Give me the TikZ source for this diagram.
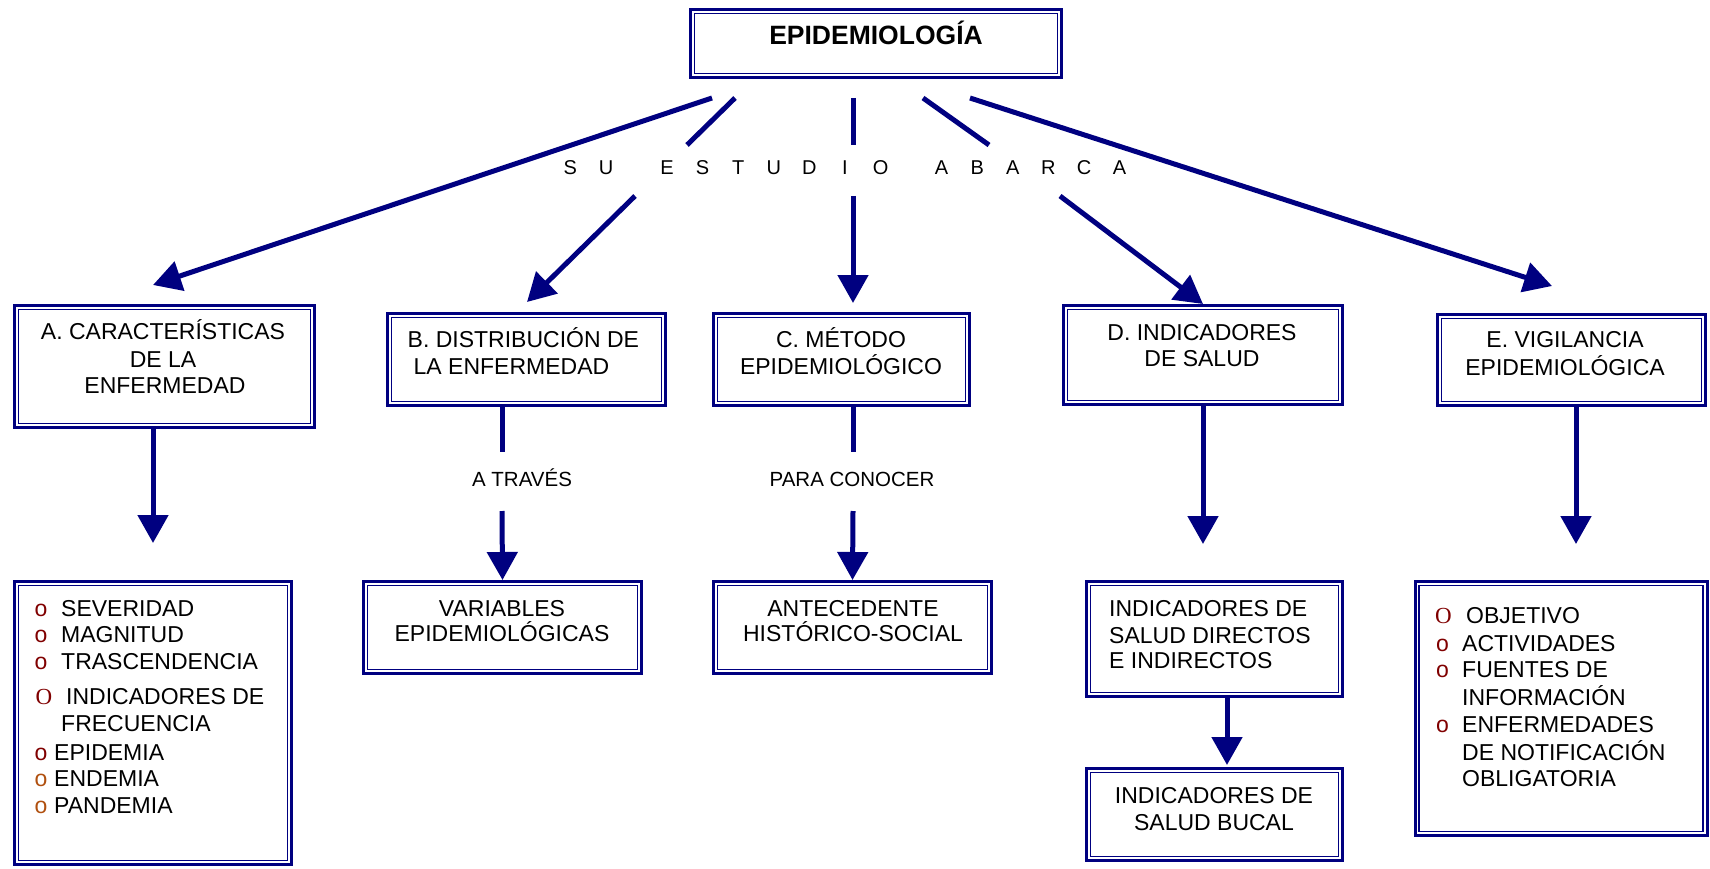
\documentclass[tikz,border=0pt]{standalone}
\usepackage{fontspec}
\setmainfont{Liberation Sans}
\newfontfamily\serifbul{Liberation Serif}
\usetikzlibrary{arrows.meta,calc}
\definecolor{navy}{HTML}{000080}
\definecolor{bulred}{HTML}{800000}
\definecolor{bulorange}{HTML}{B0500F}
\newcommand{\lsp}[1]{\makebox[35.6pt]{#1}}
\begin{document}
\begin{tikzpicture}[x=1pt,y=-1pt,
  dbox/.style={draw=navy, line width=3pt, inner sep=0pt, rectangle,
    path picture={\draw[navy,line width=1.7pt]
      ([shift={(4.05pt,-4.05pt)}]path picture bounding box.north west) rectangle
      ([shift={(-4.05pt,4.05pt)}]path picture bounding box.south east);}},
  txt/.style={inner sep=0pt, font=\fontsize{23}{27}\selectfont},
  small/.style={inner sep=0pt, font=\fontsize{20.5}{24}\selectfont},
  bul/.style={inner sep=0pt, anchor=base, text=bulred, font=\fontsize{23}{27}\selectfont},
  sbul/.style={inner sep=0pt, anchor=base, text=bulred, font=\serifbul\fontsize{23}{27}\selectfont},
  obul/.style={bul, text=bulorange},
  ln/.style={draw=navy, line width=5pt},
  arr/.style={draw=navy, line width=5pt, -{Triangle[length=28pt,width=30pt]}}
]
\useasboundingbox (0,0) rectangle (1710,869);

% boxes
\node[dbox, minimum width=371pt, minimum height=68pt] (T) at (876,43.5) {};
\node[dbox, minimum width=300pt, minimum height=122pt] (A) at (164.5,366.5) {};
\node[dbox, minimum width=278pt, minimum height=92pt] (B) at (526.5,359.5) {};
\node[dbox, minimum width=256pt, minimum height=92pt] (C) at (841.5,359.5) {};
\node[dbox, minimum width=279pt, minimum height=99pt] (D) at (1203,355) {};
\node[dbox, minimum width=268pt, minimum height=91pt] (E) at (1571.5,360) {};
\node[dbox, minimum width=277pt, minimum height=283pt] (Alist) at (153,723) {};
\node[dbox, minimum width=278pt, minimum height=92pt] (Bsub) at (502.5,627.5) {};
\node[dbox, minimum width=278pt, minimum height=92pt] (Csub) at (852.5,627.5) {};
\node[dbox, minimum width=256pt, minimum height=115pt] (Dsub1) at (1214.5,639) {};
\node[dbox, minimum width=256pt, minimum height=92pt] (Dsub2) at (1214.5,814.5) {};
\node[dbox, minimum width=292pt, minimum height=254pt] (Elist) at (1561,708.5) {};

% title
\node[inner sep=0pt, anchor=base, font=\bfseries\fontsize{26.5}{30}\selectfont] (ttl) at (876,45) {EPIDEMIOLOGÍA};

% header texts
\node[txt, anchor=base] (a1) at (163,339) {A. CARACTERÍSTICAS};
\node[txt, anchor=base] (a2) at (163,367) {DE LA};
\node[txt, anchor=base] (a3) at (165,393) {ENFERMEDAD};
\node[txt, anchor=base west] (b1t) at (407.5,347.5) {B. DISTRIBUCIÓN DE};
\node[txt, anchor=base west] (b2t) at (413.5,374) {LA ENFERMEDAD};
\node[txt, anchor=base] (c1t) at (841,347) {C. MÉTODO};
\node[txt, anchor=base] (c2t) at (841,374) {EPIDEMIOLÓGICO};
\node[txt, anchor=base] (d1t) at (1202,340) {D. INDICADORES};
\node[txt, anchor=base] (d2t) at (1202,366) {DE SALUD};
\node[txt, anchor=base] (e1t) at (1565,347) {E. VIGILANCIA};
\node[txt, anchor=base] (e2t) at (1565,375) {EPIDEMIOLÓGICA};

% sub texts
\node[txt, anchor=base] (bs1) at (502,616) {VARIABLES};
\node[txt, anchor=base] (bs2) at (502,641) {EPIDEMIOLÓGICAS};
\node[txt, anchor=base] (cs1) at (853,616) {ANTECEDENTE};
\node[txt, anchor=base] (cs2) at (853,641) {HISTÓRICO-SOCIAL};
\node[txt, anchor=base west] (ds1) at (1109,616) {INDICADORES DE};
\node[txt, anchor=base west] (ds2) at (1109,643) {SALUD DIRECTOS};
\node[txt, anchor=base west] (ds3) at (1109,668) {E INDIRECTOS};
\node[txt, anchor=base] (dt1) at (1214,803) {INDICADORES DE};
\node[txt, anchor=base] (dt2) at (1214,830) {SALUD BUCAL};

% A list
\node[bul] (ab1) at (41,616) {o};
\node[txt, anchor=base west] (al1) at (61,616) {SEVERIDAD};
\node[bul] (ab2) at (41,642) {o};
\node[txt, anchor=base west] (al2) at (61,642) {MAGNITUD};
\node[bul] (ab3) at (41,669) {o};
\node[txt, anchor=base west] (al3) at (61,669) {TRASCENDENCIA};
\node[sbul] (ab4) at (44,704) {O};
\node[txt, anchor=base west] (al4) at (66,704) {INDICADORES DE};
\node[txt, anchor=base west] (al5) at (61,731) {FRECUENCIA};
\node[bul] (ab6) at (41,760) {o};
\node[txt, anchor=base west] (al6) at (54,760) {EPIDEMIA};
\node[obul] (ab7) at (41,786) {o};
\node[txt, anchor=base west] (al7) at (54,786) {ENDEMIA};
\node[obul] (ab8) at (41,813) {o};
\node[txt, anchor=base west] (al8) at (54,813) {PANDEMIA};

% E list
\node[sbul] (eb1) at (1443.5,623) {O};
\node[txt, anchor=base west] (el1) at (1466,623) {OBJETIVO};
\node[bul] (eb2) at (1442.5,651) {o};
\node[txt, anchor=base west] (el2) at (1462,651) {ACTIVIDADES};
\node[bul] (eb3) at (1442.5,677) {o};
\node[txt, anchor=base west] (el3) at (1462,677) {FUENTES DE};
\node[txt, anchor=base west] (el4) at (1462,705) {INFORMACIÓN};
\node[bul] (eb5) at (1442.5,732) {o};
\node[txt, anchor=base west] (el5) at (1462,732) {ENFERMEDADES};
\node[txt, anchor=base west] (el6) at (1462,760) {DE NOTIFICACIÓN};
\node[txt, anchor=base west] (el7) at (1462,786) {OBLIGATORIA};

% spaced label
\node[inner sep=0pt, anchor=base, font=\fontsize{20}{24}\selectfont] (abarca) at (845,175)
  {\lsp{S}\lsp{U}\hspace{25.4pt}\lsp{E}\lsp{S}\lsp{T}\lsp{U}\lsp{D}\lsp{I}\lsp{O}\hspace{25.4pt}\lsp{A}\lsp{B}\lsp{A}\lsp{R}\lsp{C}\lsp{A}};

% arrow coordinates from the title
\coordinate (o1) at (712,98);  \coordinate (tA) at (153,285);
\coordinate (o2) at (735,98);  \coordinate (g2a) at (687,145); \coordinate (g2b) at (635,196); \coordinate (tB) at (527,302);
\coordinate (o3) at (853,98);  \coordinate (g3a) at (853,145); \coordinate (g3b) at (853,196); \coordinate (tC) at (853,303);
\coordinate (o4) at (923,98);  \coordinate (g4a) at (989,145); \coordinate (g4b) at (1060,196); \coordinate (tD) at (1203,304);
\coordinate (o5) at (970,98);  \coordinate (tE) at (1552,286);

\draw[arr] (o1) -- (tA);
\draw[ln] (o2) -- (g2a);
\draw[arr] (g2b) -- (tB);
\draw[ln] (o3) -- (g3a);
\draw[arr] (g3b) -- (tC);
\draw[ln] (o4) -- (g4a);
\draw[arr] (g4b) -- (tD);
\draw[arr] (o5) -- (tE);

% vertical connectors
\draw[arr] (A.south -| Alist.north) -- ($(Alist.north)+(0,-37)$);

\coordinate (bg1) at (502,452); \coordinate (bg2) at (502,511);
\draw[ln] (B.south -| bg1) -- (bg1);
\draw[arr] (bg2) -- (Bsub.north);
\node[small, anchor=base] (atraves) at (522,486) {A TRAVÉS};

\coordinate (cg1) at (853,452); \coordinate (cg2) at (853,511);
\draw[ln] (C.south -| cg1) -- (cg1);
\draw[arr] (cg2) -- (Csub.north);
\node[small, anchor=base] (conocer) at (852,486) {PARA CONOCER};

\draw[arr] (D.south) -- ($(D.south |- Dsub1.north)+(0,-36)$);
\coordinate (ex) at (1576,0);
\draw[arr] (E.south -| ex) -- ($(Elist.north -| ex)+(0,-36)$);

\draw[arr] ([xshift=12.5pt]Dsub1.south) -- ([xshift=12.5pt,yshift=2pt]Dsub2.north);
\end{tikzpicture}
\end{document}
